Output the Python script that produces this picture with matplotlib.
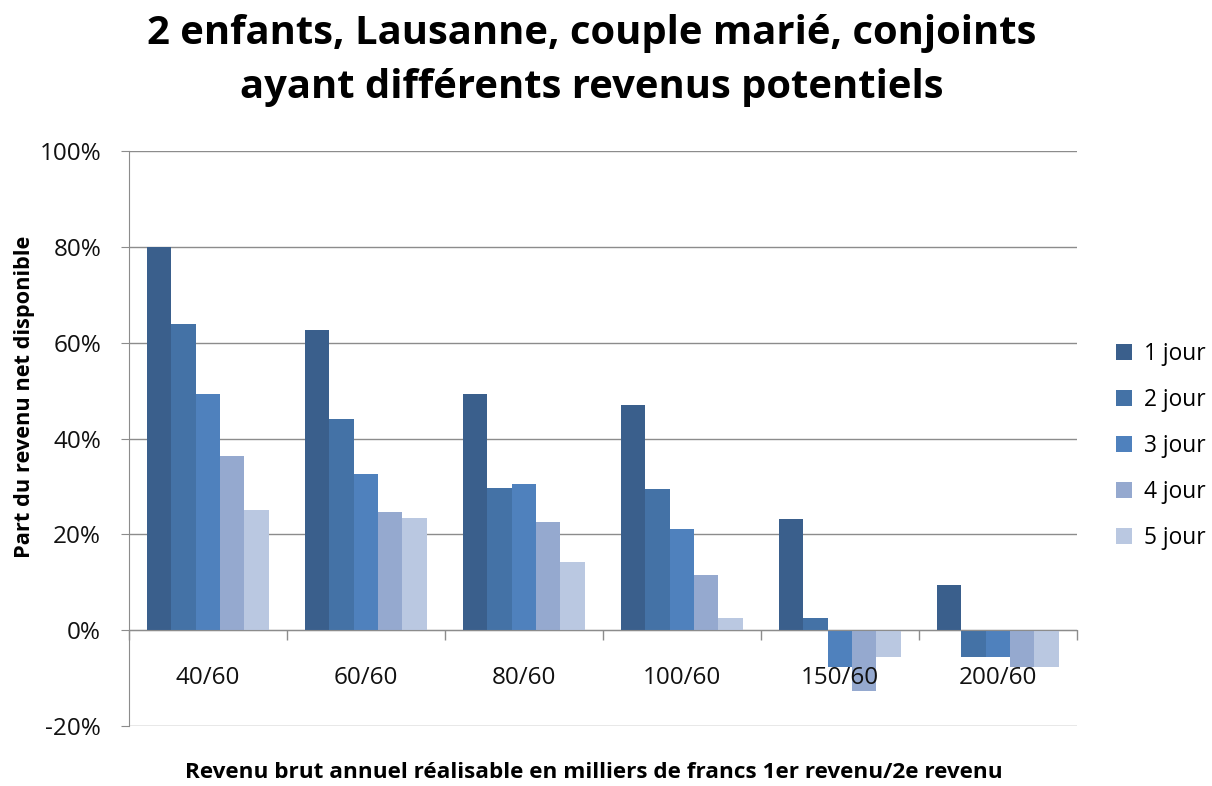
import matplotlib.pyplot as plt
import numpy as np
from matplotlib.ticker import FuncFormatter, FixedLocator

# categories and series (percent)
categories = ["40/60", "60/60", "80/60", "100/60", "150/60", "200/60"]
series_names = ["1 jour", "2 jour", "3 jour", "4 jour", "5 jour"]
jour1 = [80.0, 62.6, 49.2, 46.9, 23.3, 9.5]
jour2 = [64.0, 44.0, 29.6, 29.5, 2.5, -5.6]
jour3 = [49.2, 32.6, 30.5, 21.2, -7.7, -5.6]
jour4 = [36.3, 24.6, 22.5, 11.6, -12.7, -7.7]
jour5 = [25.1, 23.5, 14.2, 2.5, -5.6, -7.7]

colors = ["#3A5F8C", "#4472A6", "#4F81BD", "#95A9CF", "#BAC8E1"]

plt.rcParams['font.family'] = ['Open Sans', 'DejaVu Sans']


def main():
    fig = plt.figure(figsize=(12.12, 7.86), dpi=100)
    ax = fig.add_axes([0.1064, 0.0763, 0.7822, 0.7316])

    x = np.arange(len(categories))
    w = 0.154
    all_series = [jour1, jour2, jour3, jour4, jour5]
    for i, vals in enumerate(all_series):
        ax.bar(x + (i - 2) * w, vals, width=w, color=colors[i],
               label=series_names[i], zorder=3)

    ax.set_xlim(-0.5, len(categories) - 0.5)
    ax.set_ylim(-20, 100)
    ax.set_yticks(np.arange(-20, 101, 20))
    ax.yaxis.set_major_formatter(FuncFormatter(lambda v, p: f"{int(v)}%"))
    ax.grid(axis='y', color='#8c8c8c', linewidth=1.0, zorder=0)

    for s in ['top', 'right']:
        ax.spines[s].set_visible(False)
    ax.spines['left'].set_color('#8c8c8c')
    ax.spines['bottom'].set_color('#8c8c8c')
    ax.spines['bottom'].set_position(('data', 0))
    ax.spines['bottom'].set_zorder(4)
    ax.xaxis.set_zorder(5)

    ax.set_xticks(x)
    ax.set_xticklabels(categories)
    ax.xaxis.set_minor_locator(FixedLocator(np.arange(-0.5, len(categories), 1.0)))
    ax.tick_params(axis='x', which='major', length=0, pad=26, labelsize=17.5,
                   labelcolor='#111111')
    ax.tick_params(axis='x', which='minor', length=7, color='#8c8c8c', width=1)
    ax.tick_params(axis='y', length=6, color='#8c8c8c', labelsize=17.5,
                   labelcolor='#111111', pad=14)

    ax.set_ylabel("Part du revenu net disponible", fontsize=15.7, fontweight='bold')
    ax.yaxis.set_label_coords(-0.099, 0.572)
    fig.text(0.49, 0.004, "Revenu brut annuel réalisable en milliers de francs 1er revenu/2e revenu",
             ha='center', va='bottom', fontsize=16.2, fontweight='bold')

    fig.text(0.488, 0.982, "2 enfants, Lausanne, couple marié, conjoints\nayant différents revenus potentiels",
             ha='center', va='top', fontsize=28.8, fontweight='bold', linespacing=1.5)

    ax.legend(loc='center left', bbox_to_anchor=(1.02, 0.487), frameon=False,
              fontsize=16.4, handlelength=0.7, handleheight=0.7,
              labelspacing=0.97, handletextpad=0.5)

    fig.savefig("out.png", dpi=100)


if __name__ == '__main__':
    main()
